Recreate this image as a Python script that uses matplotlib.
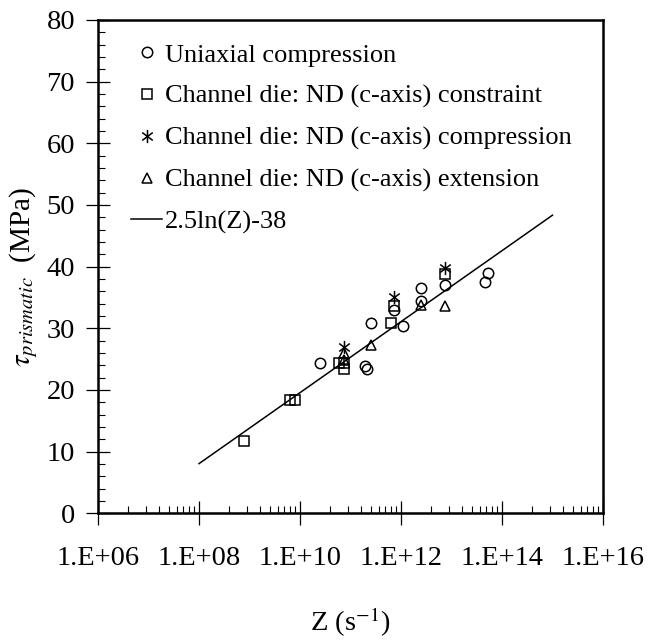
import numpy as np
import matplotlib
matplotlib.use("Agg")
import matplotlib.pyplot as plt
from matplotlib.path import Path
from matplotlib.ticker import FixedLocator, FixedFormatter, NullFormatter

plt.rcParams["font.family"] = ["Liberation Serif", "DejaVu Serif"]
plt.rcParams["mathtext.fontset"] = "stix"

# Zener-Hollomon parameter Z (1/s) and critical resolved shear stress (MPa)
uni_Z = [2.5e10, 1.95e11, 2.1e11, 2.5e11, 7.2e11, 1.1e12, 2.5e12, 2.5e12, 7.4e12, 4.6e13, 5.4e13]
uni_tau = [24.3, 23.9, 23.4, 30.9, 33.0, 30.4, 36.5, 34.4, 37.1, 37.5, 39.0]

constr_Z = [7.8e8, 6.3e9, 7.9e9, 6.0e10, 7.4e10, 7.4e10, 6.3e11, 7.2e11, 7.4e12]
constr_tau = [11.8, 18.3, 18.3, 24.4, 24.4, 23.4, 30.8, 33.6, 38.8]

comp_Z = [7.4e10, 7.2e11, 7.4e12]
comp_tau = [27.0, 35.0, 39.7]

ext_Z = [7.4e10, 7.4e10, 2.5e11, 2.5e12, 7.4e12]
ext_tau = [26.0, 24.8, 27.3, 33.8, 33.6]

# fitted law: tau = 2.5 ln(Z) - 38
fit_a, fit_b = 2.5, -38.0
fit_Z_range = [1e8, 1e15]

x_tick_labels = ["1.E+06", "1.E+08", "1.E+10", "1.E+12", "1.E+14", "1.E+16"]
x_tick_exps = [6, 8, 10, 12, 14, 16]

# six-armed asterisk marker
asterisk = Path(
    [(0, -1), (0, 1), (-0.8, -0.6), (0.8, 0.6), (-0.8, 0.6), (0.8, -0.6)],
    [Path.MOVETO, Path.LINETO, Path.MOVETO, Path.LINETO, Path.MOVETO, Path.LINETO],
)

fig = plt.figure(figsize=(6.48, 6.42), dpi=100)
ax = fig.add_axes([98 / 648, 1 - 513.3 / 642, 505 / 648, 493.3 / 642])

mk = dict(linestyle="none", markerfacecolor="none", markeredgecolor="black",
          markeredgewidth=1.1, markersize=7.5, color="black")

ax.plot(uni_Z, uni_tau, marker="o", label="Uniaxial compression", **mk)
ax.plot(constr_Z, constr_tau, marker="s", label="Channel die: ND (c-axis) constraint", **mk)
mk_ast = dict(mk, markersize=9.5)
ax.plot(comp_Z, comp_tau, marker=asterisk, label="Channel die: ND (c-axis) compression", **mk_ast)
ax.plot(ext_Z, ext_tau, marker="^", label="Channel die: ND (c-axis) extension", **mk)

zf = np.logspace(np.log10(fit_Z_range[0]), np.log10(fit_Z_range[1]), 200)
ax.plot(zf, fit_a * np.log(zf) + fit_b, color="black", linewidth=1.1, label="2.5ln(Z)-38")

ax.set_xscale("log")
ax.set_xlim(1e6, 1e16)
ax.set_ylim(0, 80)

# base-100 log axis: major ticks every two decades, minor ticks at k^2 multiples
major = [10.0 ** e for e in x_tick_exps]
minor = [10.0 ** e * k * k for e in x_tick_exps[:-1] for k in range(2, 10)]
ax.xaxis.set_major_locator(FixedLocator(major))
ax.xaxis.set_major_formatter(FixedFormatter(x_tick_labels))
ax.xaxis.set_minor_locator(FixedLocator(minor))
ax.xaxis.set_minor_formatter(NullFormatter())

ax.yaxis.set_major_locator(FixedLocator(np.arange(0, 81, 10)))
ax.yaxis.set_minor_locator(FixedLocator(np.arange(0, 81, 2)))

ax.tick_params(which="major", direction="inout", length=17, width=0.9, labelsize=20.5)
ax.tick_params(axis="x", which="major", pad=15)
ax.tick_params(axis="y", which="major", pad=8)
ax.tick_params(which="minor", direction="in", length=5, width=0.8)
ax.tick_params(top=False, right=False, which="both")

for s in ax.spines.values():
    s.set_linewidth(1.8)

ax.set_xlabel(r"Z (s$^{-1}$)", fontsize=20.5)
ax.xaxis.set_label_coords(0.5, -0.188)
ax.set_ylabel(r"$\tau_{prismatic}$  (MPa)", fontsize=21)
ax.yaxis.set_label_coords(-0.115, 0.48)

leg = ax.legend(loc="upper left", bbox_to_anchor=(0.065, 0.953), frameon=False,
                fontsize=19, handlelength=1.2, handletextpad=0.08,
                labelspacing=0.68, borderpad=0, borderaxespad=0)

fig.savefig("out.png", dpi=100)
